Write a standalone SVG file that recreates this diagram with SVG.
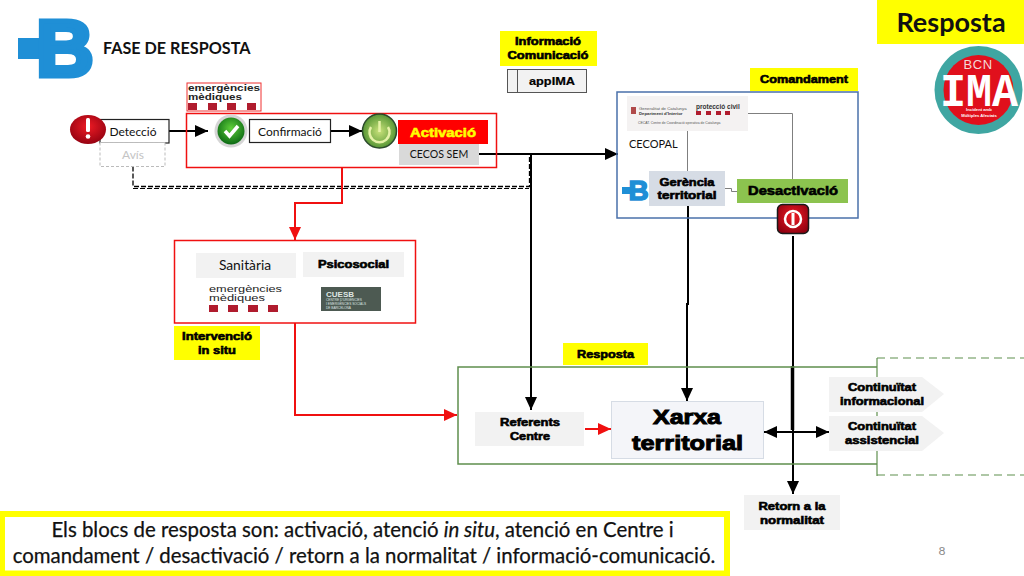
<svg xmlns="http://www.w3.org/2000/svg" width="1024" height="576" viewBox="0 0 1024 576">
<style>
.b{font-family:"Lato","Open Sans",sans-serif;fill:#111}
.h{font-family:"Liberation Sans",Arial,sans-serif;font-weight:700;fill:#000;stroke:#000;stroke-width:.6;text-anchor:middle;font-size:10.5px}
.m{text-anchor:middle}
.em{font-family:"Liberation Sans",Arial,sans-serif;font-weight:700;font-size:9.5px;fill:#222}
.y{fill:#ffff00}
.g{fill:#f2f2f2}
.sq{fill:#b01c2e}
.lk{fill:none;stroke:#000;stroke-width:2}
.rd{fill:none;stroke:#f01010;stroke-width:2}
.th{fill:none;stroke:#7f7f7f;stroke-width:1}
</style>
<defs>
<marker id="ak" markerUnits="userSpaceOnUse" markerWidth="14" markerHeight="14" refX="13" refY="7" orient="auto-start-reverse"><path d="M0 1L13 7L0 13z" fill="#000"/></marker>
<marker id="ar" markerUnits="userSpaceOnUse" markerWidth="14" markerHeight="14" refX="13" refY="7" orient="auto"><path d="M0 1L13 7L0 13z" fill="#f01010"/></marker>
<radialGradient id="gc" cx=".5" cy=".4" r=".6"><stop offset="0" stop-color="#5fd03a"/><stop offset="1" stop-color="#0c6a14"/></radialGradient>
<radialGradient id="gp" cx=".5" cy=".5" r=".55"><stop offset="0" stop-color="#c9e27a"/><stop offset="1" stop-color="#4c8f2e"/></radialGradient>
<radialGradient id="gr" cx=".5" cy=".4" r=".65"><stop offset="0" stop-color="#ee1b24"/><stop offset="1" stop-color="#8f0010"/></radialGradient>
</defs>

<g id="logo-b">
<rect x="18" y="38" width="26" height="21" fill="#1f8fd6"/>
<text x="36" y="75.500" font-family="Liberation Sans,Arial,sans-serif" font-weight="700" font-size="80" fill="#1f8fd6" stroke="#1f8fd6" stroke-width="5">B</text>
</g>
<g id="title"><text class="b" x="103" y="54" font-size="16.200" font-weight="700">FASE DE RESPOSTA</text></g>
<g id="resposta-title"><rect class="y" x="877" y="0" width="147" height="44"/><text class="b m" x="951" y="32" font-size="27" font-weight="700">Resposta</text></g>
<g id="ima-badge">
<circle cx="978.500" cy="90" r="44" fill="#3fa6a2"/><circle cx="978.500" cy="90" r="35" fill="#e0101c"/>
<text x="978" y="69" text-anchor="middle" font-family="Liberation Sans,Arial,sans-serif" font-size="13" fill="#f4d8d8" letter-spacing=".6">BCN</text>
<text x="979" y="106" text-anchor="middle" font-family="Liberation Mono,monospace" font-weight="700" font-size="47" fill="#fff" textLength="78" lengthAdjust="spacingAndGlyphs">IMA</text>
<text x="979" y="111" text-anchor="middle" font-family="Liberation Sans,Arial,sans-serif" font-weight="700" font-size="4.200" fill="#fff">Incident amb</text>
<text x="979" y="116.500" text-anchor="middle" font-family="Liberation Sans,Arial,sans-serif" font-weight="700" font-size="4.200" fill="#fff">Múltiples Afectats</text>
</g>

<g id="connectors">
<path d="M133 166.500V186.500H529.500V155" fill="none" stroke="#000" stroke-width="1.300" stroke-dasharray="5 2"/>
<path d="M133 188.500H529" fill="none" stroke="#000" stroke-width="1" stroke-dasharray="5 2"/>
<path class="lk" d="M169 131H208" marker-end="url(#ak)"/>
<path class="lk" d="M331 131H362" marker-end="url(#ak)"/>
<path class="lk" d="M479 154H618" marker-end="url(#ak)"/>
<path class="lk" d="M531 155V410" marker-end="url(#ak)"/>
<path class="lk" d="M688 206V304H687V401" marker-end="url(#ak)"/>
<path class="lk" d="M793 236V494" marker-end="url(#ak)"/>
<path d="M792.500 366V430" stroke="#000" stroke-width="3.500" fill="none"/>
<path class="lk" d="M764 432H829" marker-start="url(#ak)" marker-end="url(#ak)"/>
<path class="rd" d="M342 167V203H295V240" marker-end="url(#ar)"/>
<path class="rd" d="M295 323V415H457" marker-end="url(#ar)"/>
<path class="rd" d="M585 429H611" marker-end="url(#ar)"/>
<path class="th" d="M748 113.500H792.500V179M687.500 131V171M725 188.500H731.500V191.500H737"/>
</g>

<g id="emergencies-logo">
<rect x="187" y="83" width="74" height="28" fill="#fff" stroke="#f03030"/>
<text class="em" x="188" y="90.500" textLength="72" lengthAdjust="spacingAndGlyphs">emergències</text><text class="em" x="188" y="99.500" textLength="54" lengthAdjust="spacingAndGlyphs">mèdiques</text>
<rect class="sq" x="188" y="103" width="9" height="7"/><rect class="sq" x="208" y="103" width="9" height="7"/><rect class="sq" x="227" y="103" width="9" height="7"/><rect class="sq" x="247" y="103" width="9" height="7"/>
</g>
<g id="activacio-group">
<rect x="186.500" y="113.500" width="310" height="54" fill="none" stroke="#f01010" stroke-width="1.500"/>
</g>
<g id="deteccio">
<rect x="100" y="119.500" width="69" height="23.500" fill="#fff" stroke="#222" stroke-width="1.200"/>
<text class="b m" x="133" y="136" font-size="12">Detecció</text>
<ellipse cx="88" cy="129.500" rx="18" ry="14.500" fill="url(#gr)"/>
<rect x="86" y="118" width="4" height="14" rx="1.500" fill="#fff"/><circle cx="88" cy="136.500" r="2.300" fill="#fff"/>
</g>
<g id="avis"><rect x="100" y="142.500" width="65" height="24" fill="#fff" stroke="#bbb" stroke-dasharray="3 2"/><text class="b m" x="133" y="159" font-size="12" style="fill:#c4c4c4">Avís</text></g>
<g id="confirmacio">
<circle cx="231" cy="131" r="16.500" fill="#d5d5d5"/><circle cx="231" cy="131" r="13.500" fill="url(#gc)"/>
<path d="M225 131L229.500 136L238 126" fill="none" stroke="#fff" stroke-width="3.500"/>
<rect x="249.500" y="119.500" width="81" height="23" fill="#fff" stroke="#222" stroke-width="1.200"/>
<text class="b m" x="290" y="136" font-size="12">Confirmació</text>
</g>
<g id="activacio">
<circle cx="379.500" cy="131" r="17" fill="url(#gp)" stroke="#2c4a2c" stroke-width="1.500"/>
<path d="M371 127A10 10 0 1 0 388 127M379.500 121V132" fill="none" stroke="#e6f2a8" stroke-width="2.500"/>
<rect x="398" y="120" width="90" height="24" fill="#ff0000"/>
<text class="h" x="443" y="137" textLength="66" lengthAdjust="spacingAndGlyphs" style="font-size:13px;fill:#ffff00;stroke:#ffff00">Activació</text>
</g>
<g id="cecos"><rect x="399" y="144" width="80" height="21" fill="#d9d9d9"/><text class="b m" x="439" y="158" font-size="10.600">CECOS SEM</text></g>

<g id="info"><rect class="y" x="500" y="31" width="97" height="35"/><text class="h" x="548" y="45" textLength="66" lengthAdjust="spacingAndGlyphs">Informació</text><text class="h" x="548" y="59" textLength="81" lengthAdjust="spacingAndGlyphs">Comunicació</text></g>
<g id="appima"><rect x="507.500" y="69.500" width="79" height="23" fill="#f2f2f2" stroke="#555"/><path d="M517.500 69.500V92.500" stroke="#555"/><text class="h" x="552" y="85" textLength="46" lengthAdjust="spacingAndGlyphs" style="stroke-width:.2">appIMA</text></g>

<g id="comandament">
<rect x="617" y="92" width="241" height="126" fill="none" stroke="#4a70aa" stroke-width="1.500"/>
<rect class="y" x="750" y="68" width="108" height="23"/><text class="h" x="804" y="83" textLength="88" lengthAdjust="spacingAndGlyphs">Comandament</text>
<text class="b" x="629" y="148" font-size="11">CECOPAL</text>
</g>
<g id="cecopal-logo">
<rect x="627" y="96" width="121" height="35" fill="#f4f2f2"/>
<rect x="631" y="107" width="5" height="7" fill="#b04a4a"/>
<text x="639" y="110" font-family="Liberation Sans,Arial,sans-serif" font-size="4.300" fill="#555">Generalitat de Catalunya</text>
<text x="639" y="114.800" font-family="Liberation Sans,Arial,sans-serif" font-size="4.300" font-weight="700" fill="#333">Department d'Interior</text>
<text x="696" y="109" font-family="Liberation Sans,Arial,sans-serif" font-size="6.500" font-weight="700" fill="#333">protecció civil</text>
<rect class="sq" x="696" y="111" width="5" height="4"/><rect class="sq" x="706" y="111" width="5" height="4"/><rect class="sq" x="716" y="111" width="5" height="4"/><rect class="sq" x="725" y="111" width="5" height="4"/>
<text x="638" y="124" font-family="Liberation Sans,Arial,sans-serif" font-size="3.400" fill="#555">CECAT. Centre de Coordinació operativa de Catalunya</text>
</g>
<g id="gerencia">
<rect x="622" y="187" width="12" height="7" fill="#1f8fd6"/>
<text x="628.500" y="200" font-family="Liberation Sans,Arial,sans-serif" font-weight="700" font-size="28" fill="#1f8fd6" stroke="#1f8fd6" stroke-width="1.500">B</text>
<rect x="649" y="171" width="76" height="35" fill="#d6dce5"/>
<text class="h" x="687" y="186" textLength="55" lengthAdjust="spacingAndGlyphs">Gerència</text><text class="h" x="687" y="199" textLength="59" lengthAdjust="spacingAndGlyphs">territorial</text>
</g>
<g id="desactivacio">
<rect x="737" y="179" width="111" height="24" fill="#8cc34f"/>
<text class="h" x="793" y="195" textLength="90" lengthAdjust="spacingAndGlyphs" style="font-size:12px">Desactivació</text>
<rect x="777.500" y="204.500" width="31" height="29" rx="5" fill="url(#gr)" stroke="#1a1a1a" stroke-width="1.500"/>
<circle cx="793" cy="219" r="8" fill="none" stroke="#fff" stroke-width="2.500"/><path d="M793 213V225" stroke="#fff" stroke-width="3"/>
</g>

<g id="intervencio">
<rect x="174.500" y="240.500" width="241" height="82.500" fill="none" stroke="#f01010" stroke-width="1.500"/>
<rect x="196" y="253" width="100" height="25" class="g"/><text class="b m" x="245" y="270" font-size="13.800">Sanitària</text>
<rect x="303" y="252" width="101" height="25" class="g"/><text class="h" x="353.500" y="268" textLength="71" lengthAdjust="spacingAndGlyphs">Psicosocial</text>
<text class="em" x="209" y="292" textLength="73" lengthAdjust="spacingAndGlyphs" style="font-weight:400">emergències</text><text class="em" x="209" y="301" textLength="56" lengthAdjust="spacingAndGlyphs" style="font-weight:400">mèdiques</text>
<rect class="sq" x="209" y="305" width="9" height="7"/><rect class="sq" x="228" y="305" width="10" height="7"/><rect class="sq" x="248" y="305" width="10" height="7"/><rect class="sq" x="268" y="305" width="10" height="7"/>
<path d="M321 287H381V311H321z" fill="#4d5a52"/>
<text x="326" y="297" font-family="Liberation Sans,Arial,sans-serif" font-size="8" font-weight="700" fill="#dfe6e2">CUESB</text>
<text x="326" y="301" font-family="Liberation Sans,Arial,sans-serif" font-size="3.200" fill="#dfe6e2">CENTRE D'URGÈNCIES</text>
<text x="326" y="305" font-family="Liberation Sans,Arial,sans-serif" font-size="3.200" fill="#dfe6e2">I EMERGÈNCIES SOCIALS</text>
<text x="326" y="309" font-family="Liberation Sans,Arial,sans-serif" font-size="3.200" fill="#dfe6e2">DE BARCELONA</text>
</g>
<g id="intervencio-label"><rect class="y" x="174" y="326" width="86" height="34"/><text class="h" x="217" y="340" textLength="70" lengthAdjust="spacingAndGlyphs">Intervenció</text><text class="h" x="217" y="354" textLength="38" lengthAdjust="spacingAndGlyphs">in situ</text></g>

<g id="resposta">
<path d="M877 367H458V464H877" fill="none" stroke="#5f8f4e" stroke-width="1.500"/>
<path d="M877 358V476" fill="none" stroke="#5f8f4e" stroke-width="1.200"/>
<path d="M877 358H1024M877 475H1024" fill="none" stroke="#5f8f4e" stroke-width="1.200" stroke-dasharray="8 5"/>
<rect class="y" x="563" y="343" width="85" height="22"/><text class="h" x="605.500" y="358" textLength="57" lengthAdjust="spacingAndGlyphs">Resposta</text>
</g>
<g id="referents"><rect x="475" y="412" width="109" height="34" class="g"/><text class="h" x="530" y="426" textLength="60" lengthAdjust="spacingAndGlyphs">Referents</text><text class="h" x="530" y="440" textLength="40" lengthAdjust="spacingAndGlyphs">Centre</text></g>
<g id="xarxa"><rect x="611.500" y="401.500" width="152" height="57" fill="#f4f5f9" stroke="#d6dce5"/>
<text class="h" x="687" y="424" textLength="68" lengthAdjust="spacingAndGlyphs" style="font-size:21px;stroke-width:1">Xarxa</text><text class="h" x="687.500" y="450" textLength="111" lengthAdjust="spacingAndGlyphs" style="font-size:21px;stroke-width:1">territorial</text></g>
<g id="cont-info"><path d="M829 377H922L944 394L922 412H829z" class="g"/><text class="h" x="882" y="391" textLength="68" lengthAdjust="spacingAndGlyphs">Continuïtat</text><text class="h" x="882" y="405" textLength="84" lengthAdjust="spacingAndGlyphs">informacional</text></g>
<g id="cont-asis"><path d="M829 416H922L944 433L922 451H829z" class="g"/><text class="h" x="882" y="430" textLength="68" lengthAdjust="spacingAndGlyphs">Continuïtat</text><text class="h" x="882" y="444" textLength="74" lengthAdjust="spacingAndGlyphs">assistencial</text></g>
<g id="retorn"><rect x="744" y="495" width="96" height="35" class="g"/><text class="h" x="792" y="510" textLength="67" lengthAdjust="spacingAndGlyphs">Retorn a la</text><text class="h" x="792" y="524" textLength="64" lengthAdjust="spacingAndGlyphs">normalitat</text></g>

<g id="caption">
<rect x="2" y="514" width="725" height="59.500" fill="#fff" stroke="#ffff00" stroke-width="6"/>
<text class="b m" x="362.500" y="537" font-size="20.400" stroke="#111" stroke-width=".25">Els blocs de resposta son: activació, atenció <tspan font-style="italic">in situ</tspan>, atenció en Centre i</text>
<text class="b m" x="364" y="563" font-size="20.400" stroke="#111" stroke-width=".25">comandament / desactivació / retorn a la normalitat / informació-comunicació.</text>
</g>
<text x="942" y="555" text-anchor="middle" font-family="Lato,sans-serif" font-size="12" fill="#8a8a8a">8</text>
</svg>
